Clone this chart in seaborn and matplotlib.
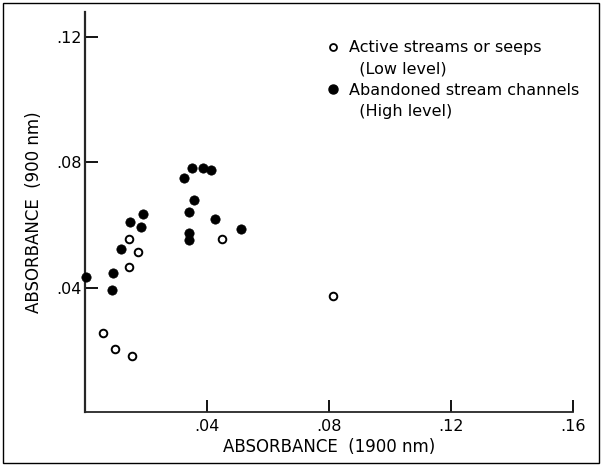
import matplotlib
matplotlib.use("Agg")
import matplotlib.pyplot as plt
import matplotlib.ticker as mticker
from matplotlib.lines import Line2D
from matplotlib.patches import Rectangle
import seaborn as sns
import pandas as pd

# Active streams or seeps (low level) - open circles
activo_x = [0.0146, 0.0174, 0.0144, 0.0451, 0.0813, 0.0060, 0.0098, 0.0156]
activo_y = [0.0555, 0.0515, 0.0468, 0.0558, 0.0375, 0.0256, 0.0205, 0.0185]

# Abandoned stream channels (high level) - filled circles
abandonado_x = [0.0004, 0.0088, 0.0093, 0.0118, 0.0149, 0.0183, 0.0189,
                0.0324, 0.0352, 0.0388, 0.0412, 0.0359, 0.0340, 0.0428,
                0.0511, 0.0340, 0.0340]
abandonado_y = [0.0437, 0.0394, 0.0447, 0.0525, 0.0609, 0.0596, 0.0637,
                0.0750, 0.0782, 0.0782, 0.0776, 0.0681, 0.0643, 0.0619,
                0.0589, 0.0574, 0.0553]

x_ticks = [0.04, 0.08, 0.12, 0.16]
y_ticks = [0.04, 0.08, 0.12]

sns.set_style("ticks")
plt.rcParams["font.family"] = ["DejaVu Sans"]
plt.rcParams["text.color"] = "black"
plt.rcParams["axes.labelcolor"] = "black"

fig = plt.figure(figsize=(6.02, 4.66), dpi=100)
ax = fig.add_axes([0.141, 0.1165, 0.811, 0.858])

df_act = pd.DataFrame({"x": activo_x, "y": activo_y})
df_aban = pd.DataFrame({"x": abandonado_x, "y": abandonado_y})

sns.scatterplot(data=df_aban, x="x", y="y", ax=ax, s=45, color="black",
                edgecolor="black", linewidth=0.5, zorder=3, clip_on=False)
sns.scatterplot(data=df_act, x="x", y="y", ax=ax, s=30, facecolor="white",
                edgecolor="black", linewidth=1.4, zorder=3, clip_on=False)

ax.set_xlim(0, 0.16)
ax.set_ylim(0.0007, 0.1279)
ax.set_xticks(x_ticks)
ax.set_yticks(y_ticks)
fmt = mticker.FuncFormatter(lambda v, p: f"{v:.2f}".lstrip("0"))
ax.xaxis.set_major_formatter(fmt)
ax.yaxis.set_major_formatter(fmt)
ax.tick_params(direction="in", length=9, width=1.3, labelsize=11.5, pad=5,
               colors="black")
ax.tick_params(axis="y", pad=2)

for lado in ["top", "right"]:
    ax.spines[lado].set_visible(False)
ax.spines["left"].set_linewidth(1.6)
ax.spines["bottom"].set_linewidth(1.3)

ax.set_xlabel("ABSORBANCE  (1900 nm)", fontsize=12, labelpad=3)
ax.set_ylabel("ABSORBANCE  (900 nm)", fontsize=12, labelpad=10)

vacio = Line2D([], [], linestyle="none", marker="")
h_act = Line2D([], [], linestyle="none", marker="o", markersize=5,
               markerfacecolor="white", markeredgecolor="black",
               markeredgewidth=1.3)
h_aban = Line2D([], [], linestyle="none", marker="o", markersize=6.5,
                markerfacecolor="black", markeredgecolor="black")
ax.legend([h_act, vacio, h_aban, vacio],
          ["Active streams or seeps", "  (Low level)",
           "Abandoned stream channels", "  (High level)"],
          loc="upper left", bbox_to_anchor=(0.465, 0.965), frameon=False,
          fontsize=11.5, handlelength=0.8, handletextpad=0.6,
          labelspacing=0.4, labelcolor="black")

fig.add_artist(Rectangle((0.005, 0.006), 0.99, 0.988,
                         transform=fig.transFigure, fill=False,
                         edgecolor="black", linewidth=1.0))

fig.savefig("out.png", dpi=100)
